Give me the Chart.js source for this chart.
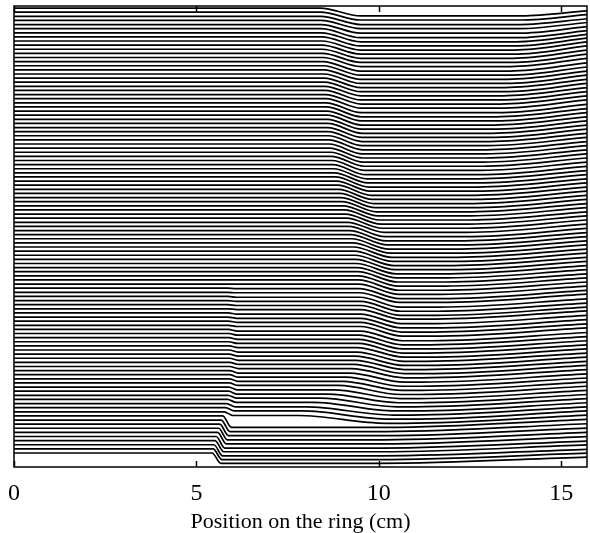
<!DOCTYPE html>
<html>
<head>
<meta charset="utf-8">
<title>Position on the ring</title>
<script src="https://cdn.jsdelivr.net/npm/chart.js@4.4.1/dist/chart.umd.min.js"></script>
<style>
  html, body { margin: 0; padding: 0; background: #fff; }
  #wrap { width: 590px; height: 533px; }
</style>
</head>
<body>
<div id="wrap"><canvas id="ringChart" width="590" height="533"></canvas></div>
<script>
// ring circumference (cm) and the tick labels on the x axis
var ringLength = 15.708;
var xTicks = [0, 5, 10, 15];

// traces are stacked one unit apart, trace 0 at the bottom (109 traces)
// sharp front near 5.6 cm, only seen on the lower 41 traces
var frontX = [5.55, 5.58, 5.60, 5.63, 5.66, 5.70, 5.73, 5.76, 5.80, 5.84,
  5.88, 5.92, 5.95, 5.97, 5.99, 6.00, 6.01, 6.02, 6.02, 6.03,
  6.03, 6.03, 6.03, 6.03, 6.02, 6.02, 6.02, 6.01, 6.01, 6.01,
  6.00, 6.00, 6.00, 5.99, 5.99, 5.99, 5.98, 5.98, 5.98, 5.97, 5.97];
var frontDrop = [2.5, 2.6, 2.7, 2.7, 2.8, 2.8, 2.8, 2.8, 2.8, 2.8,
  0.9, 0.8, 0.8, 0.7, 0.7, 0.7, 0.7, 0.6, 0.6, 0.6,
  0.6, 0.5, 0.5, 0.5, 0.5, 0.5, 0.4, 0.4, 0.4, 0.4,
  0.4, 0.3, 0.3, 0.3, 0.3, 0.2, 0.2, 0.2, 0.2, 0.1, 0.1];

// the slanted band (9-10.5 cm): where each trace starts and stops dropping
var bandStart = [null, null, null, null, null, null, null, null, null, null,
  7.8, 7.9, 8.0, 8.2, 8.4, 8.6, 8.75, 8.9, 9.0, 9.1, 9.2,
  9.25, 9.3, 9.35, 9.35, 9.4, 9.4, 9.45, 9.45, 9.45, 9.5,
  9.5, 9.5, 9.5, 9.5, 9.5, 9.5, 9.5, 9.48, 9.47, 9.46, 9.45, 9.44, 9.43, 9.42, 9.4,
  9.38, 9.36, 9.34, 9.32, 9.3, 9.28, 9.25, 9.22, 9.2,
  9.17, 9.14, 9.11, 9.08, 9.05, 9.02, 8.99, 8.96, 8.93, 8.9,
  8.87, 8.84, 8.81, 8.78, 8.76, 8.74, 8.72, 8.7, 8.68, 8.65,
  8.64, 8.63, 8.62, 8.61, 8.6, 8.6, 8.59, 8.58, 8.57, 8.56,
  8.55, 8.55, 8.54, 8.53, 8.52, 8.51, 8.5, 8.5, 8.49, 8.48,
  8.47, 8.46, 8.45, 8.45, 8.44, 8.44, 8.43, 8.43, 8.42, 8.42,
  8.41, 8.41, 8.4, 8.4];
var bandEnd = [null, null, null, null, null, null, null, null, null, null,
  10.2, 10.3, 10.4, 10.45, 10.5, 10.55, 10.6, 10.6, 10.65, 10.65, 10.7,
  10.7, 10.7, 10.7, 10.7, 10.7, 10.7, 10.65, 10.65, 10.65, 10.65,
  10.65, 10.64, 10.63, 10.62, 10.61, 10.6, 10.6, 10.59, 10.58, 10.57, 10.56, 10.55, 10.54, 10.52, 10.5,
  10.47, 10.44, 10.41, 10.38, 10.35, 10.32, 10.28, 10.24, 10.2,
  10.17, 10.14, 10.1, 10.06, 10.02, 9.98, 9.94, 9.9, 9.86, 9.82,
  9.79, 9.76, 9.73, 9.7, 9.67, 9.64, 9.62, 9.6, 9.58, 9.56,
  9.55, 9.55, 9.55, 9.54, 9.54, 9.54, 9.53, 9.53, 9.53, 9.52,
  9.52, 9.52, 9.52, 9.51, 9.51, 9.51, 9.51, 9.5, 9.5, 9.5,
  9.5, 9.5, 9.5, 9.5, 9.5, 9.5, 9.5, 9.5, 9.5, 9.5,
  9.5, 9.5, 9.5, 9.5];
var bandDrop = [0, 0, 0, 0, 0, 0, 0, 0, 0, 0,
  1.9, 2.0, 2.0, 2.1, 2.1, 2.1, 2.1, 2.2, 2.2, 2.2, 2.2,
  2.25, 2.25, 2.25, 2.25, 2.25, 2.35, 2.35, 2.35, 2.35, 2.35,
  2.35, 2.35, 2.35, 2.3, 2.3, 2.4, 2.4, 2.4, 2.35, 2.45,
  2.5, 2.5, 2.5, 2.5, 2.5, 2.5, 2.5, 2.5, 2.5, 2.5, 2.5, 2.5, 2.5, 2.5, 2.5,
  2.45, 2.45, 2.45, 2.45, 2.45, 2.45, 2.45, 2.45, 2.45, 2.45, 2.45, 2.45, 2.45, 2.45, 2.45,
  2.4, 2.4, 2.4, 2.4, 2.4, 2.4, 2.4, 2.4, 2.4, 2.4, 2.4, 2.4, 2.4, 2.4, 2.4,
  2.3, 2.3, 2.3, 2.3, 2.3, 2.3, 2.3, 2.3, 2.3, 2.3,
  2.2, 2.2, 2.2, 2.2, 2.2, 2.2, 2.2, 2.2,
  2.1, 2.0, 2.0, 1.9, 1.9];

// slow recovery on the right part of the ring
var riseStart = [10.0, 10.0, 10.05, 10.05, 10.1, 10.1, 10.15, 10.15, 10.2, 10.2,
  10.7, 10.8, 10.9, 10.95, 11.0, 11.05, 11.1, 11.1, 11.15, 11.15, 11.2,
  11.2, 11.25, 11.25, 11.3, 11.3, 11.35, 11.35, 11.4, 11.4, 11.45,
  11.45, 11.5, 11.5, 11.55, 11.55, 11.6, 11.6, 11.65, 11.65, 11.7,
  11.7, 11.75, 11.8, 11.85, 11.9, 11.95, 12.0, 12.05, 12.1, 12.15,
  12.2, 12.25, 12.3, 12.35, 12.4, 12.42, 12.45, 12.47, 12.5, 12.52,
  12.55, 12.57, 12.6, 12.62, 12.65, 12.67, 12.7, 12.72, 12.75, 12.78,
  12.8, 12.83, 12.86, 12.9, 12.93, 12.96, 13.0, 13.03, 13.06, 13.1,
  13.13, 13.16, 13.2, 13.23, 13.26, 13.3, 13.33, 13.36, 13.4, 13.43,
  13.46, 13.5, 13.53, 13.56, 13.6, 13.62, 13.65, 13.68, 13.7, 13.72,
  13.75, 13.77, 13.8, 13.82, 13.85, 13.87, 13.9, 13.92];
var riseAmt = [1.5, 1.55, 1.6, 1.65, 1.7, 1.75, 1.8, 1.85, 1.9, 1.95,
  2.0, 2.0, 2.0, 2.0, 2.0, 2.0, 2.0, 2.0, 2.0, 2.0, 2.0,
  2.0, 2.0, 2.0, 2.0, 2.0, 2.0, 2.0, 2.0, 2.0, 2.0,
  2.0, 2.0, 2.0, 2.0, 2.0, 2.0, 2.0, 2.0, 2.0, 2.0,
  2.0, 2.0, 2.0, 2.0, 2.0, 2.0, 2.0, 2.0, 2.0, 2.0,
  2.0, 2.0, 2.0, 2.0, 2.0, 2.0, 2.0, 2.0, 2.0, 2.0,
  2.0, 2.0, 2.0, 2.0, 2.0, 2.0, 2.0, 2.0, 2.0, 2.0,
  2.0, 2.0, 2.0, 2.0, 2.0, 2.0, 2.0, 2.0, 2.0, 2.0,
  2.0, 2.0, 2.0, 2.0, 2.0, 2.0, 2.0, 2.0, 2.0, 2.0,
  2.0, 2.0, 2.0, 2.0, 2.0, 2.0, 2.0, 2.0, 2.0, 2.0,
  1.9, 1.8, 1.7, 1.6, 1.5, 1.4, 1.3, 1.2];

var frontHalf = 0.12;

// build the polyline of one trace from the values above
function tracePoints(i) {
  var level = i;
  var pts = [{x: 0, y: level}];
  if (i < frontX.length && frontDrop[i] > 0) {
    pts.push({x: frontX[i] - frontHalf, y: level});
    level -= frontDrop[i];
    pts.push({x: frontX[i] + frontHalf, y: level});
  }
  if (bandDrop[i] > 0) {
    pts.push({x: bandStart[i], y: level});
    level -= bandDrop[i];
    pts.push({x: bandEnd[i], y: level});
  }
  pts.push({x: riseStart[i], y: level});
  pts.push({x: ringLength, y: level + riseAmt[i]});
  return pts;
}

var datasets = [];
for (var i = 0; i < riseStart.length; i++) {
  datasets.push({
    data: tracePoints(i),
    borderColor: '#000',
    borderWidth: 1.7,
    pointRadius: 0,
    fill: false,
    cubicInterpolationMode: 'monotone'
  });
}

// box round the plot and inward ticks top and bottom
var framePlugin = {
  id: 'frame',
  afterDatasetsDraw: function(chart) {
    var ctx = chart.ctx, a = chart.chartArea, xs = chart.scales.x;
    ctx.save();
    ctx.strokeStyle = '#000';
    ctx.lineWidth = 1.5;
    ctx.strokeRect(a.left, a.top, a.right - a.left, a.bottom - a.top);
    xTicks.forEach(function(v) {
      var px = Math.round(xs.getPixelForValue(v)) + 0.5;
      ctx.beginPath();
      ctx.moveTo(px, a.bottom);
      ctx.lineTo(px, a.bottom - 6);
      ctx.moveTo(px, a.top);
      ctx.lineTo(px, a.top + 6);
      ctx.stroke();
    });
    ctx.restore();
  }
};

new Chart(document.getElementById('ringChart').getContext('2d'), {
  type: 'line',
  data: { datasets: datasets },
  options: {
    responsive: false,
    animation: false,
    devicePixelRatio: 1,
    layout: { padding: { left: 14, right: 3, top: 6, bottom: 0 } },
    plugins: { legend: { display: false }, tooltip: { enabled: false } },
    scales: {
      x: {
        type: 'linear',
        min: 0,
        max: ringLength,
        afterBuildTicks: function(scale) {
          scale.ticks = xTicks.map(function(v) { return {value: v}; });
        },
        afterFit: function(scale) {
          scale.height = 66;
          scale.paddingLeft = 0;
          scale.paddingRight = 0;
        },
        grid: { display: false, drawTicks: false },
        border: { display: false },
        ticks: {
          color: '#000',
          padding: 12,
          maxRotation: 0,
          font: { family: 'Liberation Serif', size: 24 }
        },
        title: {
          display: true,
          text: 'Position on the ring (cm)',
          color: '#000',
          padding: { top: 0, bottom: -2 },
          font: { family: 'Liberation Serif', size: 22 }
        }
      },
      y: {
        type: 'linear',
        display: false,
        min: -3.4,
        max: 108.5
      }
    }
  },
  plugins: [framePlugin]
});
</script>
</body>
</html>
